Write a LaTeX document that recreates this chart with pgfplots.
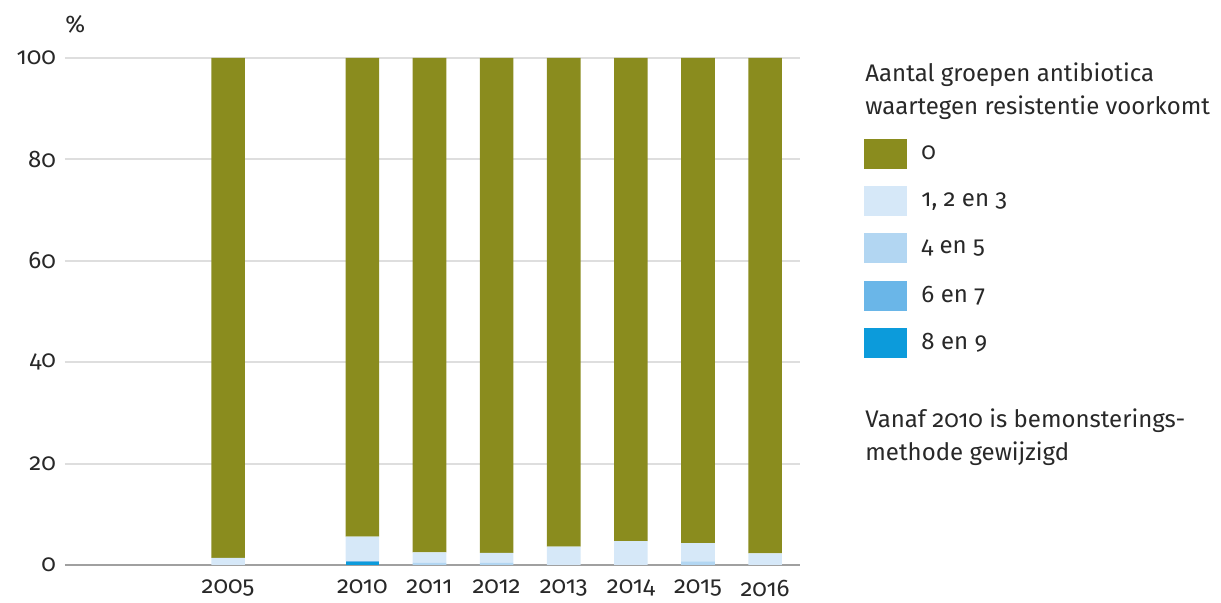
\documentclass[border=0pt]{standalone}
\usepackage{fontspec}
\setmainfont{Fira Sans}[Numbers=OldStyle]
\usepackage{pgfplots}
\pgfplotsset{compat=1.18}
\definecolor{olive0}{RGB}{138,140,30}
\definecolor{blueA}{RGB}{214,232,248}
\definecolor{blueB}{RGB}{178,214,242}
\definecolor{blueC}{RGB}{106,182,232}
\definecolor{blueD}{RGB}{12,155,219}
\definecolor{gridgray}{RGB}{222,222,222}
\definecolor{axisgray}{RGB}{160,160,160}
\definecolor{txt}{RGB}{40,40,40}
\begin{document}
\begin{tikzpicture}[font=\fontsize{12}{16.5}\selectfont, text=txt]
\begin{axis}[
  scale only axis,
  width=367.5pt, height=253.5pt,
  ybar stacked,
  bar width=0.5,
  xmin=-2.43, xmax=8.52,
  ymin=0, ymax=100,
  xtick={0,2,3,4,5,6,7,8},
  xticklabels={2005,2010,2011,2012,2013,2014,2015,2016},
  ytick={0,20,40,60,80,100},
  /pgf/number format/assume math mode=true,
  axis line style={draw=none},
  tick style={draw=none},
  ymajorgrids,
  grid style={gridgray, line width=1pt},
  ticklabel style={text=txt},
  yticklabel style={xshift=-1pt},
  xticklabel style={yshift=-4pt},
  legend style={draw=none, fill=none, at={(rel axis cs:1.079,0.849)}, anchor=north west,
    row sep=8.6pt, font=\fontsize{12}{16}\selectfont, text=txt,
    /tikz/every odd column/.append style={column sep=5pt}},
  legend cell align=left,
  reverse legend,
  legend image code/.code={\fill[#1] (0pt,-7.5pt) rectangle (21.5pt,7.5pt);},
  clip=false,
]
\addplot[fill=blueD, draw=none] coordinates {(0,0) (2,0.5) (3,0) (4,0) (5,0) (6,0) (7,0) (8,0)};
\addlegendentry{8 en 9}
\addplot[fill=blueC, draw=none] coordinates {(0,0) (2,0.3) (3,0) (4,0) (5,0) (6,0) (7,0) (8,0)};
\addlegendentry{6 en 7}
\addplot[fill=blueB, draw=none] coordinates {(0,0) (2,0) (3,0.4) (4,0.4) (5,0) (6,0) (7,0.7) (8,0)};
\addlegendentry{4 en 5}
\addplot[fill=blueA, draw=none] coordinates {(0,1.4) (2,4.8) (3,2.1) (4,2.0) (5,3.6) (6,4.7) (7,3.6) (8,2.3)};
\addlegendentry{1, 2 en 3}
\addplot[fill=olive0, draw=none] coordinates {(0,98.6) (2,94.4) (3,97.5) (4,97.6) (5,96.4) (6,95.3) (7,95.7) (8,97.7)};
\addlegendentry{0}
\draw[axisgray, line width=1pt] (rel axis cs:0,0) -- (rel axis cs:1,0);
\coordinate (O) at (rel axis cs:0,0);
\coordinate (T) at (rel axis cs:1,1);
\node[anchor=south west, inner sep=0pt] at ([xshift=-0pt,yshift=12pt]rel axis cs:0,1) {\%};
\node[anchor=north west, inner sep=0pt, align=left] at ([xshift=32.5pt,yshift=-2pt]rel axis cs:1,1)
  {Aantal groepen antibiotica\\waartegen resistentie voorkomt};
\node[anchor=north west, inner sep=0pt, align=left] at ([xshift=32.5pt,yshift=-175pt]rel axis cs:1,1)
  {Vanaf 2010 is bemonsterings-\\methode gewijzigd};
\end{axis}
\pgfresetboundingbox
\path ([xshift=-32.5pt,yshift=-19pt]O) rectangle ([xshift=210.5pt,yshift=29pt]T);
\end{tikzpicture}
\end{document}
